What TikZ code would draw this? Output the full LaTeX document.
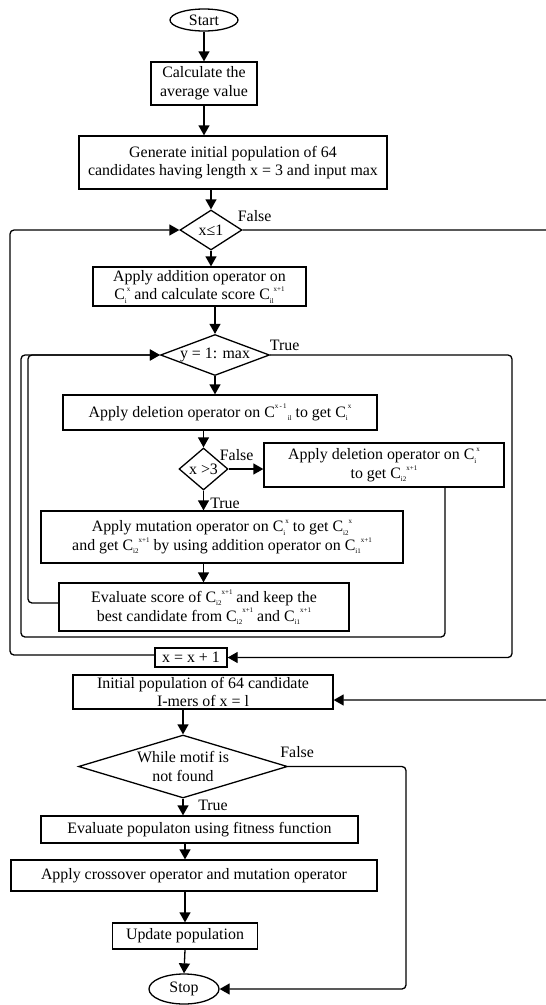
\documentclass[tikz,border=0pt]{standalone}
\usepackage{fontspec}
\setmainfont{Liberation Serif}
\usetikzlibrary{shapes.geometric,arrows.meta,calc}

\newcommand{\csub}[1]{\raisebox{-0.45ex}{\fontsize{7}{7}\selectfont #1}}
\newcommand{\csup}[1]{\raisebox{1.15ex}{\fontsize{7}{7}\selectfont #1}}

\begin{document}
\begin{tikzpicture}[x=1pt,y=-1pt,
    every node/.style={font=\fontsize{15.9}{18.7}\selectfont},
    proc/.style={draw,line width=1.3pt,align=center,inner sep=0pt},
    dec/.style={draw,diamond,line width=1.3pt,align=center,inner sep=0pt},
    term/.style={draw,ellipse,line width=1.3pt,inner sep=0pt},
    flow/.style={line width=1.3pt,-{Triangle[length=10pt,width=11pt]}},
    back/.style={flow,rounded corners=4pt},
    lbl/.style={inner sep=0pt}]
  \clip (0,0) rectangle (546,1005);
  \node[term,minimum width=68pt,minimum height=22pt] (start) at (204,20) {Start};
  \node[proc,minimum width=106pt,minimum height=43pt] (avg) at (204,83.5) {Calculate the\\average value};
  \node[proc,minimum width=308pt,minimum height=53pt] (gen) at (233,162.5) {Generate initial population of 64\\candidates having length x = 3 and input max};
  \node[dec,minimum width=62pt,minimum height=40pt,aspect=1.55] (xle) at (211,230) {x≤1};
  \node[proc,minimum width=213pt,minimum height=39pt] (add) at (199.5,286.5) {Apply addition operator on\\C\csub{i}\csup{x} and calculate score C\csub{il}\csup{x+1}};
  \node[dec,minimum width=109pt,minimum height=41pt,aspect=2.65] (yloop) at (215,355) {y = 1: max};
  \node[proc,minimum width=314pt,minimum height=35pt] (del) at (220,412.5) {Apply deletion operator on C\csup{x\,-\,1}\csub{\,il} to get C\csub{i}\csup{x}};
  \node[dec,minimum width=49pt,minimum height=42pt,aspect=1.15] (xgt) at (203.5,469) {x >3};
  \node[proc,minimum width=240pt,minimum height=44pt] (delr) at (384,465) {Apply deletion operator on C\csub{i}\csup{x}\\to get C\csub{i2}\csup{x+1}};
  \node[proc,minimum width=362pt,minimum height=52pt] (mut) at (222,537) {Apply mutation operator on C\csub{i}\csup{x} to get C\csub{i2}\csup{x}\\and get C\csub{i2}\csup{x+1} by using addition operator on C\csub{i1}\csup{x+1}};
  \node[proc,minimum width=290pt,minimum height=48pt] (eval) at (204,607) {Evaluate score of C\csub{i2}\csup{x+1} and keep the\\best candidate from C\csub{i2}\csup{x+1} and C\csub{i1}\csup{x+1}};
  \node[proc,minimum width=72pt,minimum height=19pt] (inc) at (191,657.5) {x = x + 1};
  \node[proc,minimum width=260pt,minimum height=34pt] (init) at (203,692) {Initial population of 64 candidate\\I-mers of x = l};
  \node[dec,minimum width=209pt,minimum height=63pt,aspect=3.3] (motif) at (183,766.5) {While motif is\\not found};
  \node[proc,minimum width=317pt,minimum height=27pt] (evpop) at (199.5,829.5) {Evaluate populaton using fitness function};
  \node[proc,minimum width=366pt,minimum height=31pt] (cross) at (194,875.5) {Apply crossover operator and mutation operator};
  \node[proc,minimum width=145pt,minimum height=26pt] (upd) at (185,936) {Update population};
  \node[term,minimum width=70pt,minimum height=30pt] (stop) at (184,989) {Stop};
  % straight flow
  \draw[flow] (start) -- (avg);
  \draw[flow] (avg.south) -- (avg.south |- gen.north);
  \draw[flow] (xle.north |- gen.south) -- (xle.north);
  \draw[flow] (xle.south) -- (xle.south |- add.north);
  \draw[flow] (yloop.north |- add.south) -- (yloop.north);
  \draw[flow] (yloop.south) -- (yloop.south |- del.north);
  \draw[flow] (xgt.north |- del.south) -- (xgt.north);
  \draw[flow] (xgt.east) -- (xgt.east -| delr.west);
  \draw[flow] (xgt.south) -- (xgt.south |- mut.north);
  \draw[flow] (xgt.south |- mut.south) -- (xgt.south |- eval.north);
  \draw[flow] (motif.north |- init.south) -- (motif.north);
  \draw[flow] (motif.south) -- (motif.south |- evpop.north);
  \draw[flow] (upd.north |- evpop.south) -- (upd.north |- cross.north);
  \draw[flow] (upd.north |- cross.south) -- (upd.north);
  \draw[flow] (upd.south) -- (stop.north);
  % loops
  \draw[back] (eval.west |- 0,603) -- (28,603) |- (yloop.west);
  \draw[back] (delr.south -| 445,0) -- (445,637) -- (21,637) |- (yloop.west);
  \draw[back] (yloop.east) -- (512,355) |- (inc.east);
  \draw[back] (inc.west |- 0,655) -- (10,655) |- (xle.west);
  \draw[back] (xle.east) -- (556,230) |- (init.east |- 0,700);
  \draw[back] (motif.east) -- (406,766.5) |- (stop.east);
  % labels
  \node[lbl] (f1) at ($(xle.east)+(12,-14)$) {False};
  \node[lbl] (t2) at ($(yloop.east)+(14.5,-10)$) {True};
  \node[lbl] (f3) at ($(xgt.east)+(8,-14)$) {False};
  \node[lbl] (t3) at ($(xgt.south)+(21.5,13)$) {True};
  \node[lbl] (f4) at ($(motif.east)+(9,-14.5)$) {False};
  \node[lbl] (t4) at ($(motif.south)+(30,7)$) {True};
\end{tikzpicture}
\end{document}
